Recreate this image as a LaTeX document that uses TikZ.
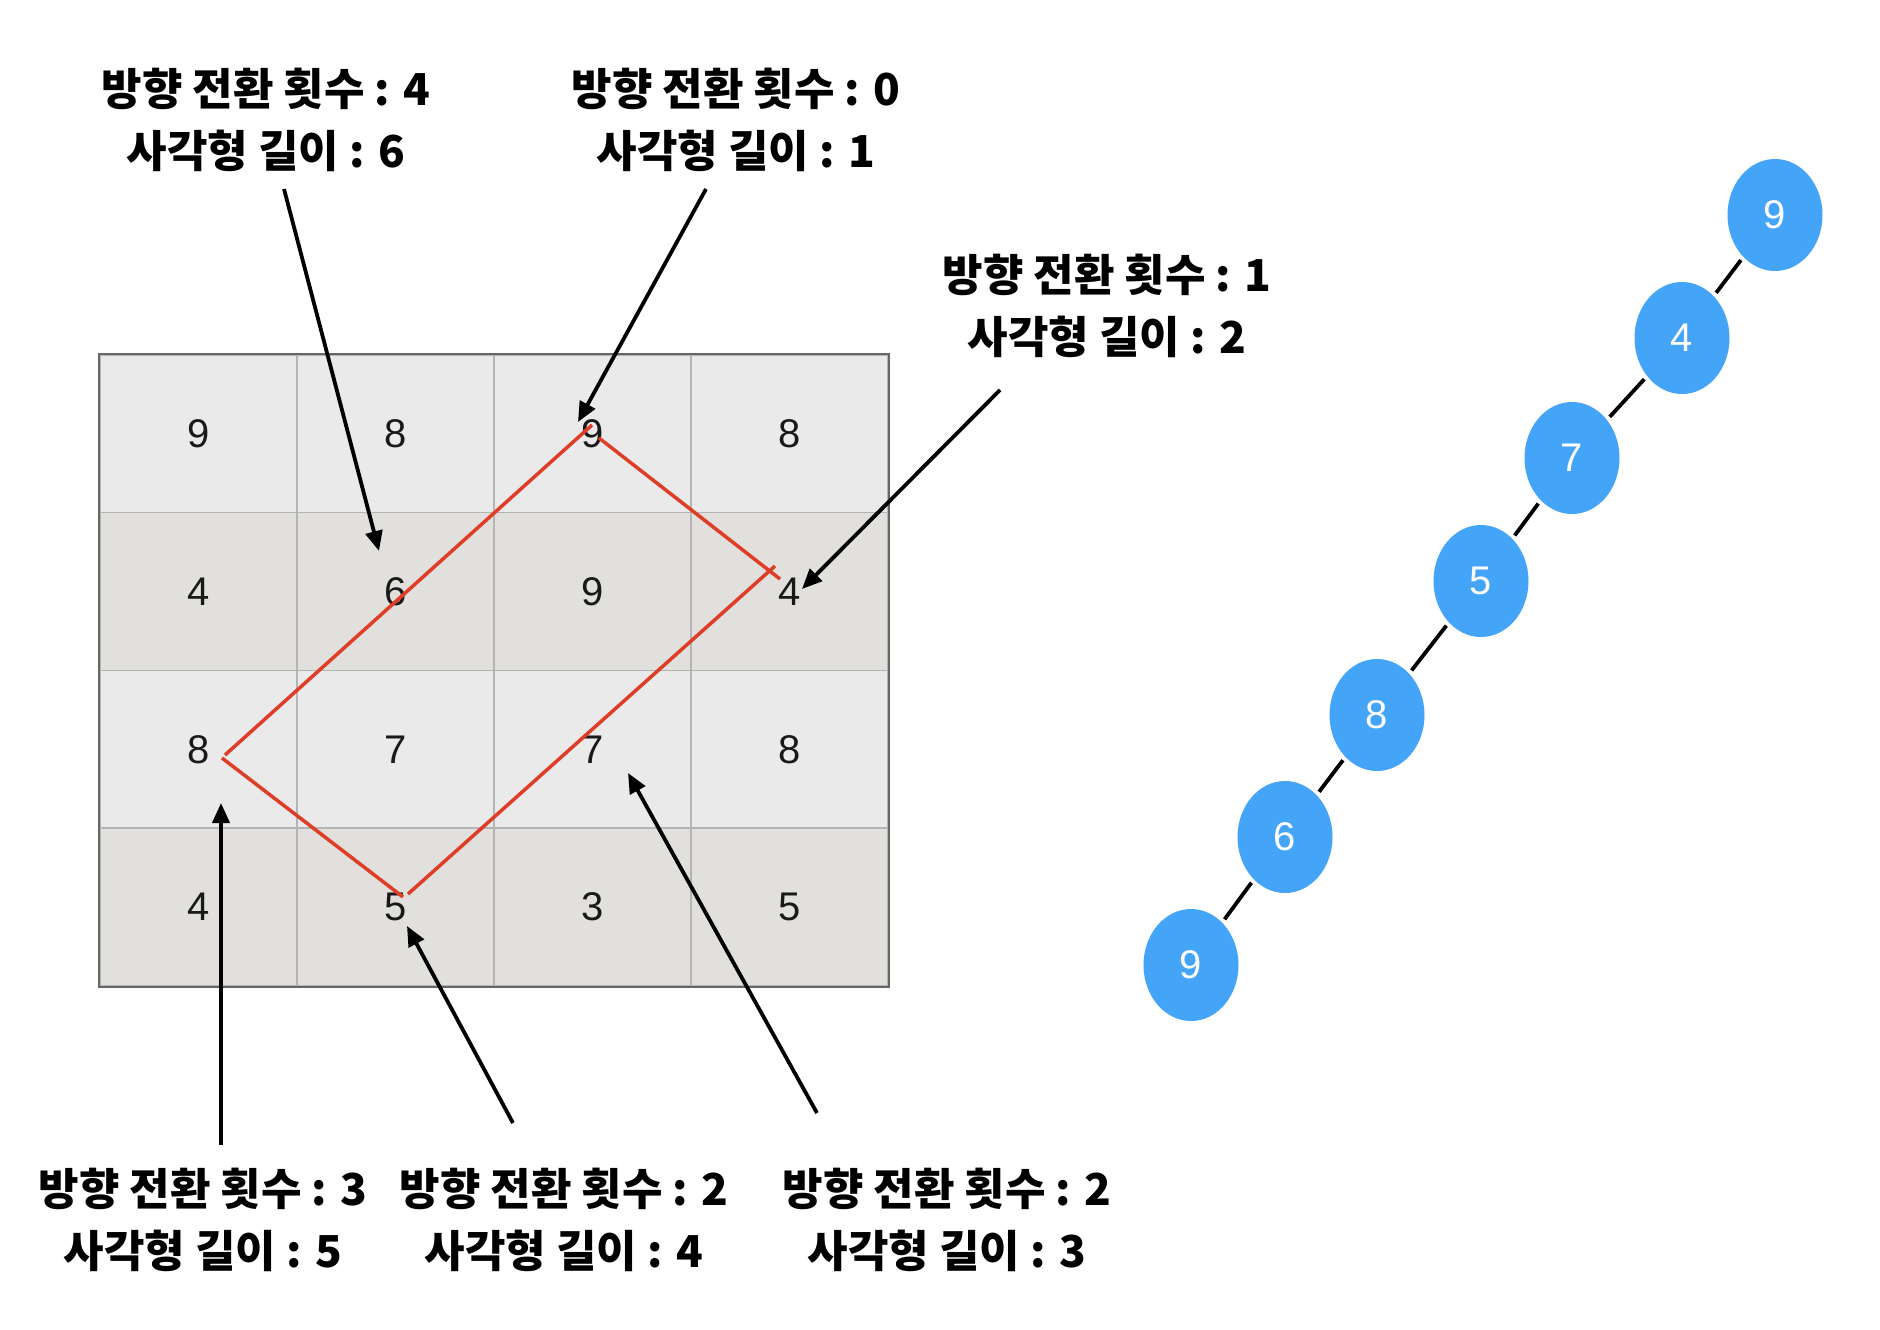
\documentclass[tikz,border=0pt]{standalone}
\usepackage{fontspec}
\setmainfont{Liberation Sans}
\newfontfamily\kr{Noto Sans CJK KR}
\usetikzlibrary{arrows.meta,shapes.geometric}
\definecolor{rowA}{RGB}{234,234,234}
\definecolor{rowB}{RGB}{225,224,220}
\definecolor{gridline}{RGB}{180,180,180}
\definecolor{border}{RGB}{102,102,102}
\definecolor{pathred}{RGB}{222,62,40}
\definecolor{treeblue}{RGB}{68,164,248}
\begin{document}
\begin{tikzpicture}[x=1pt,y=-1pt,
  cellA/.style={draw=gridline,line width=1.5pt,fill=rowA,minimum width=197pt,minimum height=157.75pt,inner sep=0pt,
     font=\fontsize{40}{48}\selectfont,text=black!90},
  cellB/.style={cellA,fill=rowB},
  lbl/.style={align=center,font=\kr\bfseries\fontsize{44}{62}\selectfont,inner sep=0pt},
  ptr/.style={line width=3.8pt,-{Triangle[length=20pt,width=17pt]}},
  redline/.style={draw=pathred,line width=3.5pt},
  tnode/.style={ellipse,fill=treeblue,minimum width=95pt,minimum height=112pt,inner sep=0pt,text=white,
     font=\fontsize{40}{48}\selectfont},
  tedge/.style={line width=3.8pt,shorten >=4pt,shorten <=4pt}]
\useasboundingbox (0,0) rectangle (1880,1330);
\fill[white] (0,0) rectangle (1880,1330);
% grid
\node[cellA] (c11) at (198.5,433.9) {9};
\node[cellA] (c12) at (395.5,433.9) {8};
\node[cellA] (c13) at (592.5,433.9) {9};
\node[cellA] (c14) at (789.5,433.9) {8};
\node[cellB] (c21) at (198.5,591.6) {4};
\node[cellB] (c22) at (395.5,591.6) {6};
\node[cellB] (c23) at (592.5,591.6) {9};
\node[cellB] (c24) at (789.5,591.6) {4};
\node[cellA] (c31) at (198.5,749.4) {8};
\node[cellA] (c32) at (395.5,749.4) {7};
\node[cellA] (c33) at (592.5,749.4) {7};
\node[cellA] (c34) at (789.5,749.4) {8};
\node[cellB] (c41) at (198.5,907.1) {4};
\node[cellB] (c42) at (395.5,907.1) {5};
\node[cellB] (c43) at (592.5,907.1) {3};
\node[cellB] (c44) at (789.5,907.1) {5};
\draw[border,line width=2pt] (c11.north west) rectangle (c44.south east);
% red rectangle path
\coordinate (rL1) at (225,755);
\coordinate (rT1) at (592,425);
\coordinate (rT2) at (599,438);
\coordinate (rR1) at (780,579);
\coordinate (rR2) at (775,566);
\coordinate (rB1) at (408,894);
\coordinate (rL2) at (222,758);
\coordinate (rB2) at (403,897);
\draw[redline] (rL1) -- (rT1);
\draw[redline] (rT2) -- (rR1);
\draw[redline] (rR2) -- (rB1);
\draw[redline] (rL2) -- (rB2);
% labels
\node[lbl] (la) at (266,120) {방향 전환 횟수 : 4\\사각형 길이 : 6};
\node[lbl] (lb) at (736,120) {방향 전환 횟수 : 0\\사각형 길이 : 1};
\node[lbl] (lc) at (1107,306) {방향 전환 횟수 : 1\\사각형 길이 : 2};
\node[lbl] (ld) at (203,1220) {방향 전환 횟수 : 3\\사각형 길이 : 5};
\node[lbl] (le) at (564,1220) {방향 전환 횟수 : 2\\사각형 길이 : 4};
\node[lbl] (lf) at (947,1220) {방향 전환 횟수 : 2\\사각형 길이 : 3};
% arrows
\coordinate (aS) at (284,189);  \coordinate (aT) at (379,551);
\coordinate (bS) at (706,189);  \coordinate (bT) at (578,422);
\coordinate (cS) at (1000,390); \coordinate (cT) at (802,589);
\coordinate (dS) at (221,1145); \coordinate (dT) at (221,803);
\coordinate (eS) at (513,1123); \coordinate (eT) at (407,926);
\coordinate (fS) at (817,1113); \coordinate (fT) at (628,773);
\draw[ptr] (aS) -- (aT);
\draw[ptr] (bS) -- (bT);
\draw[ptr] (cS) -- (cT);
\draw[ptr] (dS) -- (dT);
\draw[ptr] (eS) -- (eT);
\draw[ptr] (fS) -- (fT);
% tree
\node[tnode] (t1) at (1775,215) {9};
\node[tnode] (t2) at (1682,338) {4};
\node[tnode] (t3) at (1572,458) {7};
\node[tnode] (t4) at (1481,581) {5};
\node[tnode] (t5) at (1377,715) {8};
\node[tnode] (t6) at (1285,837) {6};
\node[tnode] (t7) at (1191,965) {9};
\draw[tedge] (t1) -- (t2);
\draw[tedge] (t2) -- (t3);
\draw[tedge] (t3) -- (t4);
\draw[tedge] (t4) -- (t5);
\draw[tedge] (t5) -- (t6);
\draw[tedge] (t6) -- (t7);
\end{tikzpicture}
\end{document}
